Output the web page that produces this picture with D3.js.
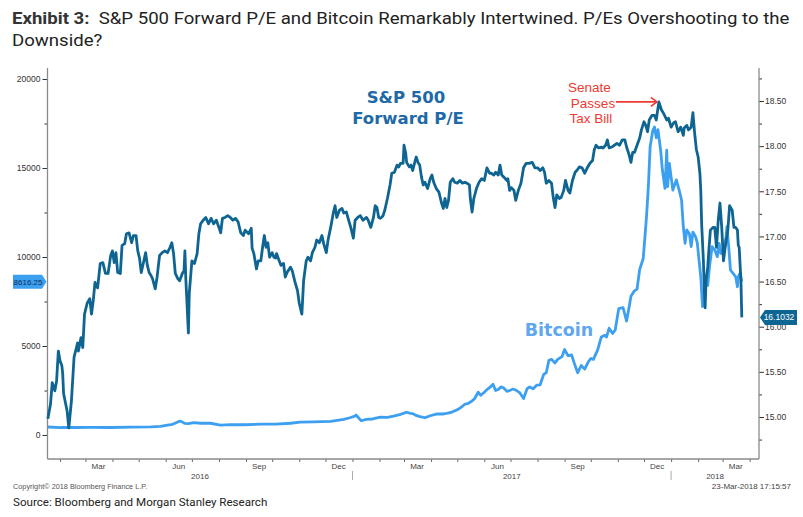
<!DOCTYPE html>
<html><head><meta charset="utf-8">
<script src="https://cdn.jsdelivr.net/npm/d3@7"></script>
<style>body{margin:0;background:#fff}svg{display:block}</style>
</head><body><svg id="c" width="803" height="517"></svg>
<script>
// ---------- DATA ----------
const spSeries = [
["2016-01-18",14.98],["2016-01-21",15.14],["2016-01-23",15.38],["2016-01-26",15.29],["2016-01-28",15.40],["2016-01-30",15.73],
["2016-02-01",15.62],["2016-02-03",15.57],["2016-02-04",15.48],["2016-02-05",15.26],["2016-02-09",15.07],["2016-02-11",14.88],
["2016-02-14",15.18],["2016-02-17",15.66],["2016-02-21",15.82],["2016-02-22",15.73],["2016-02-25",15.88],["2016-02-27",15.77],
["2016-02-29",16.14],["2016-03-03",16.26],["2016-03-06",16.31],["2016-03-08",16.14],["2016-03-10",16.29],["2016-03-12",16.49],
["2016-03-15",16.43],["2016-03-18",16.70],["2016-03-21",16.71],["2016-03-24",16.59],["2016-03-27",16.59],["2016-03-30",16.79],
["2016-04-01",16.84],["2016-04-03",16.71],["2016-04-05",16.82],["2016-04-07",16.60],["2016-04-10",16.59],["2016-04-12",16.90],
["2016-04-15",16.92],["2016-04-17",17.03],["2016-04-20",17.04],["2016-04-23",16.93],["2016-04-25",17.01],["2016-04-28",17.01],
["2016-04-30",16.84],["2016-05-02",16.76],["2016-05-04",16.60],["2016-05-07",16.73],["2016-05-09",16.82],["2016-05-11",16.68],
["2016-05-13",16.60],["2016-05-15",16.57],["2016-05-17",16.53],["2016-05-20",16.42],["2016-05-22",16.54],["2016-05-25",16.79],
["2016-05-28",16.82],["2016-05-31",16.84],["2016-06-03",16.82],["2016-06-06",16.88],["2016-06-08",16.93],["2016-06-10",16.81],
["2016-06-12",16.59],["2016-06-15",16.53],["2016-06-17",16.51],["2016-06-20",16.59],["2016-06-22",16.62],["2016-06-23",16.84],
["2016-06-24",16.54],["2016-06-27",15.93],["2016-06-28",16.37],["2016-07-01",16.73],["2016-07-04",16.70],["2016-07-07",16.81],
["2016-07-09",17.03],["2016-07-11",17.14],["2016-07-14",17.18],["2016-07-17",17.21],["2016-07-20",17.14],["2016-07-23",17.20],
["2016-07-26",17.14],["2016-07-29",17.18],["2016-08-01",17.10],["2016-08-03",17.04],["2016-08-05",17.20],["2016-08-08",17.21],
["2016-08-11",17.23],["2016-08-14",17.21],["2016-08-17",17.18],["2016-08-20",17.20],["2016-08-23",17.16],["2016-08-26",17.04],
["2016-08-29",17.01],["2016-08-31",17.07],["2016-09-04",17.03],["2016-09-07",17.09],["2016-09-08",16.87],["2016-09-10",16.81],
["2016-09-13",16.64],["2016-09-15",16.73],["2016-09-18",16.73],["2016-09-20",16.88],["2016-09-22",17.01],["2016-09-24",16.88],
["2016-09-26",16.93],["2016-09-28",16.77],["2016-10-01",16.82],["2016-10-03",16.77],["2016-10-05",16.76],["2016-10-06",16.81],
["2016-10-09",16.73],["2016-10-11",16.68],["2016-10-14",16.70],["2016-10-16",16.55],["2016-10-18",16.60],["2016-10-22",16.66],
["2016-10-24",16.62],["2016-10-27",16.50],["2016-10-30",16.40],["2016-11-01",16.26],["2016-11-04",16.14],["2016-11-06",16.51],
["2016-11-09",16.73],["2016-11-11",16.77],["2016-11-14",16.73],["2016-11-16",16.82],["2016-11-19",16.88],["2016-11-21",16.96],
["2016-11-24",16.93],["2016-11-27",17.01],["2016-11-29",16.92],["2016-12-02",16.82],["2016-12-04",16.96],["2016-12-07",17.10],
["2016-12-10",17.26],["2016-12-12",17.34],["2016-12-14",17.21],["2016-12-17",17.29],["2016-12-20",17.31],["2016-12-22",17.26],
["2016-12-25",17.27],["2016-12-27",17.20],["2016-12-30",17.10],["2017-01-02",16.98],["2017-01-04",17.18],["2017-01-07",17.21],
["2017-01-10",17.23],["2017-01-13",17.18],["2017-01-17",17.21],["2017-01-19",17.18],["2017-01-22",17.10],["2017-01-25",17.21],
["2017-01-27",17.34],["2017-01-29",17.32],["2017-01-31",17.21],["2017-02-02",17.20],["2017-02-05",17.23],["2017-02-07",17.29],
["2017-02-10",17.42],["2017-02-13",17.57],["2017-02-15",17.70],["2017-02-18",17.71],["2017-02-21",17.79],["2017-02-23",17.77],
["2017-02-25",17.81],["2017-02-28",17.81],["2017-03-01",18.01],["2017-03-03",17.92],["2017-03-04",17.82],["2017-03-07",17.77],
["2017-03-09",17.79],["2017-03-11",17.73],["2017-03-13",17.81],["2017-03-15",17.88],["2017-03-17",17.82],["2017-03-19",17.79],
["2017-03-21",17.66],["2017-03-23",17.57],["2017-03-25",17.60],["2017-03-28",17.53],["2017-03-31",17.64],["2017-04-02",17.68],
["2017-04-04",17.60],["2017-04-07",17.53],["2017-04-10",17.49],["2017-04-13",17.37],["2017-04-15",17.31],["2017-04-17",17.42],
["2017-04-19",17.32],["2017-04-21",17.40],["2017-04-23",17.60],["2017-04-26",17.64],["2017-04-28",17.60],["2017-05-01",17.59],
["2017-05-04",17.62],["2017-05-07",17.59],["2017-05-10",17.60],["2017-05-12",17.59],["2017-05-15",17.57],["2017-05-16",17.42],
["2017-05-18",17.27],["2017-05-20",17.42],["2017-05-23",17.53],["2017-05-26",17.60],["2017-05-29",17.64],["2017-06-01",17.62],
["2017-06-04",17.76],["2017-06-07",17.70],["2017-06-09",17.70],["2017-06-12",17.68],["2017-06-14",17.71],["2017-06-17",17.68],
["2017-06-19",17.79],["2017-06-21",17.68],["2017-06-23",17.66],["2017-06-27",17.62],["2017-06-28",17.64],["2017-06-30",17.51],
["2017-07-02",17.54],["2017-07-05",17.51],["2017-07-07",17.40],["2017-07-10",17.51],["2017-07-13",17.59],["2017-07-16",17.76],
["2017-07-19",17.81],["2017-07-22",17.81],["2017-07-26",17.82],["2017-07-29",17.76],["2017-08-01",17.76],["2017-08-04",17.73],
["2017-08-07",17.76],["2017-08-09",17.71],["2017-08-11",17.59],["2017-08-14",17.62],["2017-08-17",17.59],["2017-08-19",17.43],
["2017-08-21",17.32],["2017-08-23",17.46],["2017-08-26",17.42],["2017-08-28",17.43],["2017-08-31",17.51],["2017-09-02",17.62],
["2017-09-05",17.51],["2017-09-07",17.48],["2017-09-10",17.62],["2017-09-13",17.71],["2017-09-15",17.73],["2017-09-18",17.77],
["2017-09-21",17.76],["2017-09-24",17.70],["2017-09-27",17.76],["2017-09-30",17.81],["2017-10-03",17.84],["2017-10-05",17.96],
["2017-10-07",18.01],["2017-10-10",17.98],["2017-10-13",17.99],["2017-10-15",17.98],["2017-10-18",18.01],["2017-10-20",18.07],
["2017-10-22",17.98],["2017-10-25",17.99],["2017-10-28",18.01],["2017-10-31",18.03],["2017-11-03",18.01],["2017-11-06",18.07],
["2017-11-09",18.07],["2017-11-11",17.99],["2017-11-14",17.90],["2017-11-16",17.82],["2017-11-18",17.93],["2017-11-20",17.93],
["2017-11-23",18.01],["2017-11-26",18.09],["2017-11-28",18.18],["2017-12-01",18.27],["2017-12-03",18.23],["2017-12-05",18.16],
["2017-12-07",18.29],["2017-12-10",18.34],["2017-12-13",18.34],["2017-12-15",18.29],["2017-12-18",18.49],["2017-12-21",18.40],
["2017-12-23",18.37],["2017-12-27",18.29],["2017-12-29",18.31],["2018-01-01",18.21],["2018-01-04",18.26],["2018-01-06",18.27],
["2018-01-09",18.16],["2018-01-12",18.21],["2018-01-15",18.12],["2018-01-16",18.20],["2018-01-19",18.23],["2018-01-21",18.18],
["2018-01-24",18.21],["2018-01-26",18.37],["2018-01-28",18.14],["2018-01-30",17.96],["2018-02-01",17.88],["2018-02-03",17.70],
["2018-02-04",17.51],["2018-02-05",17.14],["2018-02-07",16.73],["2018-02-08",16.43],["2018-02-09",16.21],["2018-02-10",16.51],
["2018-02-12",16.66],["2018-02-13",16.81],["2018-02-15",17.07],["2018-02-18",17.10],["2018-02-20",17.10],["2018-02-22",16.88],
["2018-02-24",17.18],["2018-02-26",17.37],["2018-02-28",17.10],["2018-03-02",16.73],["2018-03-04",16.88],["2018-03-07",17.07],
["2018-03-09",17.34],["2018-03-12",17.29],["2018-03-14",17.10],["2018-03-16",17.10],["2018-03-18",17.07],["2018-03-19",16.90],
["2018-03-20",16.88],["2018-03-22",16.51],["2018-03-23",16.1032]
];
const btcSeries = [
["2016-01-18",450],["2016-02-02",420],["2016-02-19",420],["2016-03-07",430],["2016-03-30",420],["2016-04-22",440],
["2016-05-15",455],["2016-05-26",480],["2016-06-03",560],["2016-06-09",600],["2016-06-16",760],["2016-06-18",780],
["2016-06-23",650],["2016-06-27",640],["2016-07-03",700],["2016-07-11",660],["2016-07-22",660],["2016-08-03",560],
["2016-08-14",580],["2016-08-31",575],["2016-09-18",610],["2016-10-05",615],["2016-10-22",660],["2016-11-02",720],
["2016-11-17",740],["2016-12-07",770],["2016-12-22",880],["2016-12-29",970],["2017-01-03",1050],["2017-01-05",1120],
["2017-01-11",800],["2017-01-17",880],["2017-01-24",900],["2017-02-02",1000],["2017-02-10",990],["2017-02-17",1060],
["2017-02-25",1160],["2017-03-04",1280],["2017-03-08",1220],["2017-03-11",1200],["2017-03-14",1120],["2017-03-19",1030],
["2017-03-25",970],["2017-03-31",1080],["2017-04-08",1190],["2017-04-14",1180],["2017-04-19",1220],["2017-04-25",1290],
["2017-05-01",1420],["2017-05-05",1540],["2017-05-10",1740],["2017-05-13",1760],["2017-05-18",1910],["2017-05-21",2050],
["2017-05-25",2400],["2017-05-28",2230],["2017-06-01",2400],["2017-06-04",2550],["2017-06-08",2700],["2017-06-11",2850],
["2017-06-14",2500],["2017-06-17",2560],["2017-06-20",2700],["2017-06-23",2650],["2017-06-27",2450],["2017-06-30",2500],
["2017-07-04",2580],["2017-07-08",2500],["2017-07-12",2350],["2017-07-16",2050],["2017-07-20",2600],["2017-07-23",2700],
["2017-07-27",2600],["2017-07-31",2800],["2017-08-04",2820],["2017-08-08",3400],["2017-08-11",3500],["2017-08-14",4200],
["2017-08-17",4250],["2017-08-21",4050],["2017-08-24",4250],["2017-08-29",4400],["2017-09-01",4800],["2017-09-05",4450],
["2017-09-09",4500],["2017-09-13",3900],["2017-09-16",3500],["2017-09-20",3900],["2017-09-24",3700],["2017-09-28",4100],
["2017-10-01",4300],["2017-10-04",4250],["2017-10-09",4800],["2017-10-13",5500],["2017-10-17",5600],["2017-10-19",5500],
["2017-10-22",6000],["2017-10-26",5700],["2017-10-29",5900],["2017-11-02",7100],["2017-11-07",7150],["2017-11-11",6400],
["2017-11-14",7200],["2017-11-16",7800],["2017-11-20",8100],["2017-11-23",8200],["2017-11-26",9300],["2017-11-30",9900],
["2017-12-02",11100],["2017-12-04",12400],["2017-12-06",14000],["2017-12-08",16200],["2017-12-10",16800],["2017-12-11",17100],
["2017-12-13",17300],["2017-12-15",16700],["2017-12-17",17150],["2017-12-20",16000],["2017-12-22",14900],["2017-12-25",13860],
["2017-12-27",16000],["2017-12-28",13950],["2017-12-30",15260],["2018-01-03",13760],["2018-01-07",14330],["2018-01-10",13800],
["2018-01-13",13200],["2018-01-15",11700],["2018-01-17",10770],["2018-01-19",11520],["2018-01-22",11300],["2018-01-24",10580],
["2018-01-26",11400],["2018-01-29",11140],["2018-01-31",10800],["2018-02-02",9830],["2018-02-04",8890],["2018-02-06",7210],
["2018-02-08",7800],["2018-02-09",8520],["2018-02-12",8400],["2018-02-14",9460],["2018-02-17",10580],["2018-02-20",10390],
["2018-02-23",10020],["2018-02-25",10770],["2018-02-27",10200],["2018-03-02",10450],["2018-03-05",11140],["2018-03-06",11700],
["2018-03-08",10580],["2018-03-10",9270],["2018-03-13",9080],["2018-03-16",8890],["2018-03-18",8330],["2018-03-19",8900],
["2018-03-21",9100],["2018-03-23",8616.25]
];
const leftTicks = [0, 5000, 10000, 15000, 20000];
const leftMinorTicks = [2500, 7500, 12500, 17500];
const rightTicks = [15.00, 15.50, 16.00, 16.50, 17.00, 17.50, 18.00, 18.50];
const rightMinorTicks = [14.75, 15.25, 15.75, 16.25, 16.75, 17.25, 17.75, 18.25, 18.75];
const monthLabelNames = ["Mar", "Jun", "Sep", "Dec"];
const yearLabels = ["2016", "2017", "2018"];
const seriesNames = ["S&P 500", "Forward P/E", "Bitcoin"];
const annotationLines = ["Senate", "Passes", "Tax Bill"];

// ---------- SETUP ----------
const parse = d3.utcParse("%Y-%m-%d");
const sp = spSeries.map(d => ({date: parse(d[0]), value: d[1]}));
const btc = btcSeries.map(d => ({date: parse(d[0]), value: d[1]}));

const svg = d3.select("#c");
const L = 47.5, R = 759, T = 68, B = 459;

const x = d3.scaleUtc()
  .domain([new Date(Date.UTC(2016,0,17,14)), new Date(Date.UTC(2018,3,11,17))])
  .range([L, R]);
const yL = d3.scaleLinear().domain([0, 20000]).range([435, 79]);
const yR = d3.scaleLinear().domain([15, 18.5]).range([417, 101]);

const axisFont = "'Liberation Sans', Arial, sans-serif";
const spColor = "#0f6592", btcColor = "#3d9ff0";

// ---------- TITLE ----------
const t1 = svg.append("text").attr("fill", "#222")
  .style("font-family", "Roboto, sans-serif").style("font-size", "17px");
t1.append("tspan").style("font-weight", "bold").attr("fill","#333").text("Exhibit 3:");
t1.append("tspan").text("\u00a0 S&P 500 Forward P/E and Bitcoin Remarkably Intertwined. P/Es Overshooting to the");
const t2 = svg.append("text").attr("fill", "#222")
  .style("font-family", "Roboto, sans-serif").style("font-size", "17px").text("Downside?");
const tw = t1.node().getComputedTextLength();
const f = 778 / tw;
t1.attr("transform", `translate(12,24) scale(${f},1)`);
t2.attr("transform", `translate(12,46) scale(${f},1)`);

// ---------- AXES ----------
const gL = svg.append("g").attr("transform", `translate(${L},0)`)
  .call(d3.axisLeft(yL).tickValues(leftTicks).tickSize(5).tickPadding(2).tickFormat(d3.format("d")));
const gLm = svg.append("g").attr("transform", `translate(${L},0)`)
  .call(d3.axisLeft(yL).tickValues(leftMinorTicks).tickSize(3).tickFormat(""));
const gR = svg.append("g").attr("transform", `translate(${R},0)`)
  .call(d3.axisRight(yR).tickValues(rightTicks).tickSize(5).tickPadding(1).tickFormat(d3.format(".2f")));
const gRm = svg.append("g").attr("transform", `translate(${R},0)`)
  .call(d3.axisRight(yR).tickValues(rightMinorTicks).tickSize(3).tickFormat(""));
const months = d3.utcMonth.range(d3.utcMonth.ceil(x.domain()[0]), x.domain()[1]);
const gB = svg.append("g").attr("transform", `translate(0,${B})`)
  .call(d3.axisBottom(x).tickValues(months).tickSize(3).tickFormat(""));

[gL, gLm, gR, gRm, gB].forEach(g => {
  g.select(".domain").remove();
  g.selectAll(".tick line").attr("stroke", "#333").attr("stroke-width", 1);
  g.selectAll("text").attr("fill", "#333").style("font-family", axisFont).style("font-size", "8.5px");
});
gB.selectAll(".tick line").attr("stroke", "#666");

// axis frame lines
svg.append("line").attr("x1", L).attr("x2", L).attr("y1", T).attr("y2", B).attr("stroke", "#8a8a8a").attr("stroke-width", 1.3);
svg.append("line").attr("x1", R).attr("x2", R).attr("y1", T).attr("y2", B).attr("stroke", "#8a8a8a").attr("stroke-width", 1.3);
svg.append("line").attr("x1", L).attr("x2", R).attr("y1", B).attr("y2", B).attr("stroke", "#8a8a8a").attr("stroke-width", 1.3);

// month labels
const monthFmt = d3.utcFormat("%b");
const labelMonths = months.filter(m => monthLabelNames.includes(monthFmt(m)));
svg.append("g").selectAll("text").data(labelMonths).join("text")
  .attr("x", m => x(d3.utcDay.offset(m, 15)))
  .attr("y", 469)
  .attr("text-anchor", "middle")
  .attr("fill", "#444").style("font-family", axisFont).style("font-size", "8px")
  .text(m => monthFmt(m));

// year labels and separators
const years = yearLabels.map(y => {
  const s = new Date(Date.UTC(+y, 0, 1)), e = new Date(Date.UTC(+y + 1, 0, 1));
  const a = Math.max(x(s), x.range()[0]), b = Math.min(x(e), x.range()[1]);
  return {label: y, start: s, cx: (a + b) / 2};
});
svg.append("g").selectAll("text").data(years).join("text")
  .attr("x", d => d.cx).attr("y", 479).attr("text-anchor", "middle")
  .attr("fill", "#444").style("font-family", axisFont).style("font-size", "8px")
  .text(d => d.label);
svg.append("g").selectAll("line").data(years.filter(d => x(d.start) > L)).join("line")
  .attr("x1", d => x(d.start)).attr("x2", d => x(d.start))
  .attr("y1", 471).attr("y2", 480).attr("stroke", "#aaa").attr("stroke-width", 1);

// ---------- LINES ----------
const lineBtc = d3.line().x(d => x(d.date)).y(d => yL(d.value));
const lineSp = d3.line().x(d => x(d.date)).y(d => yR(d.value));
svg.append("path").datum(btc).attr("d", lineBtc).attr("fill", "none")
  .attr("stroke", btcColor).attr("stroke-width", 2.8).attr("stroke-linejoin", "round");
svg.append("path").datum(sp).attr("d", lineSp).attr("fill", "none")
  .attr("stroke", spColor).attr("stroke-width", 2.8).attr("stroke-linejoin", "round");

// ---------- SERIES LABELS ----------
const labelFont = "'DejaVu Sans', Verdana, sans-serif";
svg.append("text").attr("x", 406).attr("y", 103).attr("text-anchor", "middle")
  .attr("fill", "#1e69a6").style("font-family", labelFont).style("font-weight", "bold").style("font-size", "16.5px")
  .text(seriesNames[0]);
svg.append("text").attr("x", 408).attr("y", 124).attr("text-anchor", "middle")
  .attr("fill", "#1e69a6").style("font-family", labelFont).style("font-weight", "bold").style("font-size", "16.5px")
  .text(seriesNames[1]);
svg.append("text").attr("x", 559).attr("y", 336).attr("text-anchor", "middle")
  .attr("fill", "#61a7ee").style("font-family", labelFont).style("font-weight", "bold").style("font-size", "17.5px")
  .text(seriesNames[2]);

// ---------- ANNOTATION ----------
const peak = sp.reduce((a, b) => b.value > a.value ? b : a);
const px = x(peak.date), py = yR(peak.value);
const red = "#ee3a31";
const annX = [589.5, 593, 591], annY = [92, 107.5, 123];
svg.append("g").selectAll("text").data(annotationLines).join("text")
  .attr("x", (d, i) => annX[i]).attr("y", (d, i) => annY[i]).attr("text-anchor", "middle")
  .attr("fill", red).style("font-family", "'Liberation Sans', Arial, sans-serif").style("font-size", "13.5px")
  .text(d => d);
svg.append("line").attr("x1", 616).attr("x2", px - 2).attr("y1", py).attr("y2", py)
  .attr("stroke", red).attr("stroke-width", 1.6);
svg.append("path").attr("d", `M${px-8},${py-4.5}L${px-2},${py}L${px-8},${py+4.5}`)
  .attr("fill", "none").attr("stroke", red).attr("stroke-width", 1.6);

// ---------- LAST VALUE MARKERS ----------
const lastBtc = btc[btc.length - 1], lastSp = sp[sp.length - 1];
const by = yL(lastBtc.value);
svg.append("path").attr("d", `M13,${by-7}L42,${by-7}L${L-1},${by}L42,${by+7}L13,${by+7}Z`).attr("fill", "#3d9ff0");
svg.append("text").attr("x", 28).attr("y", by + 3).attr("text-anchor", "middle")
  .attr("fill", "#0a2f5c").style("font-family", axisFont).style("font-size", "8px")
  .text(d3.format(".2f")(lastBtc.value));
const sy = yR(lastSp.value);
svg.append("path").attr("d", `M${R+1},${sy}L${R+6},${sy-7.5}L797,${sy-7.5}L797,${sy+7.5}L${R+6},${sy+7.5}Z`).attr("fill", "#0d6594");
svg.append("text").attr("x", 779).attr("y", sy + 3).attr("text-anchor", "middle")
  .attr("fill", "#fff").style("font-family", axisFont).style("font-size", "8.5px")
  .text(d3.format(".4f")(lastSp.value));

// ---------- FOOTER ----------
svg.append("text").attr("x", 13).attr("y", 489).attr("fill", "#555")
  .style("font-family", axisFont).style("font-size", "7.3px").text("Copyright\u00a9 2018 Bloomberg Finance L.P.");
svg.append("text").attr("x", 791).attr("y", 489).attr("text-anchor", "end").attr("fill", "#444")
  .style("font-family", axisFont).style("font-size", "8px").text("23-Mar-2018 17:15:57");
svg.append("text").attr("x", 13).attr("y", 506).attr("fill", "#222")
  .style("font-family", "Roboto, sans-serif").style("font-size", "11.6px").text("Source: Bloomberg and Morgan Stanley Research");
</script></body></html>
